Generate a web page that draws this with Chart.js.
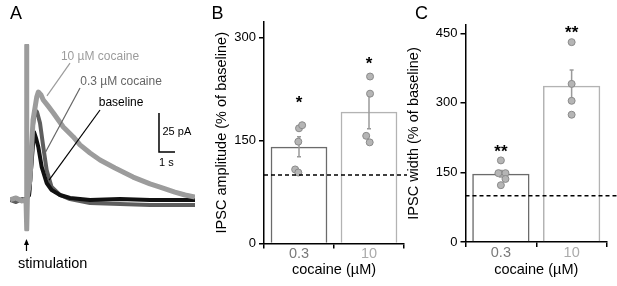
<!DOCTYPE html>
<html>
<head>
<meta charset="utf-8">
<script src="https://cdn.jsdelivr.net/npm/chart.js@4.4.1/dist/chart.umd.min.js"></script>
<style>
  html, body { margin: 0; padding: 0; background: #fff; }
  #wrap { position: relative; width: 617px; height: 286px; overflow: hidden; }
  canvas { position: absolute; top: 0; }
</style>
</head>
<body>
<div id="wrap">
  <canvas id="traces" width="200" height="286" style="left:0"></canvas>
  <canvas id="amp" width="220" height="286" style="left:190px"></canvas>
  <canvas id="width" width="217" height="286" style="left:400px"></canvas>
</div>
<script>
// ---- panel A: example IPSC traces (time in s, current in pA) ----
const cocaine10Time = [0, 0.375, 0.75, 1.0, 1.03, 1.06, 1.09, 1.25, 1.44, 1.67, 1.77, 1.94, 2.08, 2.375, 2.71, 3.33, 3.96, 4.375, 5.0, 5.625, 6.56, 7.69, 8.75, 9.375, 10.3, 10.94, 11.56];
const cocaine10Amp  = [0, 1.3, -0.6, 0, 99, -19, 2.6, 12.8, 51.3, 66, 69.2, 67.3, 64.1, 60.3, 55.8, 46.8, 40.4, 35.3, 30.1, 25.6, 20.5, 14.7, 10.3, 8.3, 5.1, 3.2, 1.9];

const cocaine03Time = [0, 0.375, 0.75, 1.0, 1.19, 1.31, 1.44, 1.56, 1.69, 1.875, 2.08, 2.29, 2.6, 3.125, 3.75, 5.0, 6.875, 8.75, 10.3, 11.56];
const cocaine03Amp  = [0, -1.3, 0.6, 0, 3.2, 19.2, 48, 57.7, 56.4, 49.4, 34, 19.2, 8.3, 3.2, 0.6, -1.9, -2.6, -3.2, -3.2, -3.2];

const baselineTime = [0, 0.375, 0.75, 1.0, 1.19, 1.31, 1.41, 1.5, 1.625, 1.77, 1.98, 2.29, 2.6, 3.125, 3.75, 5.0, 6.875, 8.75, 10.3, 11.56];
const baselineAmp  = [0, 1.3, -0.6, 0.6, 3.2, 19.2, 32, 43.6, 39.7, 34, 21.2, 10.9, 6.4, 3.2, 1.3, 0, 0.6, 0, 0, 0];

const stimTime = 1.03;

// ---- panels B and C: % of baseline ----
const doses = ['0.3', '10'];
const ampTicks = [0, 150, 300];
const ampMean = [141, 192];
const ampSem = [14.5, 24.5];
const ampPoints = [[168, 172.5, 148.5, 108, 103.5], [243.5, 218.5, 157, 147.5]];
const ampStars = ['*', '*'];
const ampStarAt = [212, 269];

const widthTicks = [0, 150, 300, 450];
const widthMean = [147, 337];
const widthSem = [7, 34];
const widthPoints = [[176, 148.5, 148.5, 136, 122.5], [431, 341, 304.5, 274.5]];
const widthStars = ['**', '**'];
const widthStarAt = [203.5, 461];

const baselineLevel = 100;

const FONT = "'Liberation Sans', Arial, sans-serif";
Chart.defaults.font.family = FONT;
Chart.defaults.color = '#000';

const pairs = (xs, ys) => xs.map((x, i) => ({ x, y: ys[i] }));

// ---------------- Panel A ----------------
const traceNotes = {
    id: 'traceNotes',
    afterDatasetsDraw(chart) {
        const { ctx, scales: { x, y } } = chart;
        const px = v => x.getPixelForValue(v);
        const py = v => y.getPixelForValue(v);
        ctx.save();
        ctx.font = '18px ' + FONT;
        ctx.fillStyle = '#000';
        ctx.textAlign = 'left';
        ctx.textBaseline = 'alphabetic';
        ctx.fillText('A', 10, 18.5);

        // labels with leader lines
        const notes = [
            { text: '10 µM cocaine', color: '#9c9c9c', at: [5.625, 91.7], from: [3.75, 87.8], to: [2.31, 66.7] },
            { text: '0.3 µM cocaine', color: '#666', at: [6.94, 75.6], from: [4.375, 71.8], to: [2.19, 30.1] },
            { text: 'baseline', color: '#000', at: [6.94, 62.2], from: [5.625, 57.7], to: [2.44, 12.8] },
        ];
        ctx.font = '12px ' + FONT;
        ctx.textAlign = 'center';
        ctx.textBaseline = 'middle';
        ctx.lineWidth = 1.2;
        notes.forEach(n => {
            ctx.fillStyle = n.color;
            ctx.strokeStyle = n.color;
            ctx.fillText(n.text, px(n.at[0]), py(n.at[1]));
            ctx.beginPath();
            ctx.moveTo(px(n.from[0]), py(n.from[1]));
            ctx.lineTo(px(n.to[0]), py(n.to[1]));
            ctx.stroke();
        });

        // scale bar: 1 s, 25 pA
        const bx = px(9.31), by = py(30.8);
        ctx.strokeStyle = '#000';
        ctx.lineWidth = 1.5;
        ctx.beginPath();
        ctx.moveTo(bx, py(30.8 + 25));
        ctx.lineTo(bx, by);
        ctx.lineTo(px(9.31 + 1), by);
        ctx.stroke();
        ctx.fillStyle = '#000';
        ctx.font = '11px ' + FONT;
        ctx.textAlign = 'left';
        ctx.fillText('25 pA', bx + 3.5, (by + py(55.8)) / 2);
        ctx.fillText('1 s', bx, by + 11);

        // stimulation arrow
        const sx = px(stimTime);
        ctx.lineWidth = 1.2;
        ctx.beginPath();
        ctx.moveTo(sx, 251);
        ctx.lineTo(sx, 243);
        ctx.stroke();
        ctx.beginPath();
        ctx.moveTo(sx, 239);
        ctx.lineTo(sx - 2.5, 245);
        ctx.lineTo(sx + 2.5, 245);
        ctx.closePath();
        ctx.fill();
        ctx.font = '14.5px ' + FONT;
        ctx.textAlign = 'left';
        ctx.fillText('stimulation', 18, 264);
        ctx.restore();
    }
};

new Chart(document.getElementById('traces'), {
    type: 'line',
    data: {
        datasets: [
            { data: pairs(cocaine10Time, cocaine10Amp), borderColor: '#9c9c9c', borderWidth: 5 },
            { data: pairs(baselineTime, baselineAmp), borderColor: '#111', borderWidth: 4 },
            { data: pairs(cocaine03Time, cocaine03Amp), borderColor: '#5e5e5e', borderWidth: 4 },
        ],
    },
    options: {
        responsive: false,
        animation: false,
        events: [],
        devicePixelRatio: 1,
        layout: { padding: { left: 10, right: 5, top: 44, bottom: 54.8 } },
        elements: { point: { radius: 0 }, line: { tension: 0, borderJoinStyle: 'round' } },
        plugins: { legend: { display: false }, tooltip: { enabled: false } },
        scales: {
            x: { type: 'linear', min: 0, max: 11.56, display: false },
            y: { type: 'linear', min: -20, max: 100, display: false },
        },
    },
    plugins: [traceNotes],
});

// ---------------- Panels B and C ----------------
function barPanel(canvasId, cfg) {
    const { means, sems, points, dodge, stars, starAt, ticks } = cfg;

    const overlay = {
        id: 'overlay-' + canvasId,
        afterDatasetDraw(chart, args) {
            if (args.meta.type !== 'bar') return;
            // error bars (mean ± SEM), under the individual points
            const { ctx, scales: { x, y } } = chart;
            ctx.save();
            ctx.strokeStyle = '#9a9a9a';
            ctx.lineWidth = 1.5;
            means.forEach((m, i) => {
                const cx = x.getPixelForValue(i);
                const y1 = y.getPixelForValue(m - sems[i]);
                const y2 = y.getPixelForValue(m + sems[i]);
                ctx.beginPath();
                ctx.moveTo(cx, y1); ctx.lineTo(cx, y2);
                ctx.moveTo(cx - 2, y1); ctx.lineTo(cx + 2, y1);
                ctx.moveTo(cx - 2, y2); ctx.lineTo(cx + 2, y2);
                ctx.stroke();
            });
            ctx.restore();
        },
        afterDatasetsDraw(chart) {
            const { ctx, chartArea, scales: { x, y } } = chart;
            ctx.save();
            // baseline reference
            ctx.strokeStyle = '#000';
            ctx.lineWidth = 1.5;
            ctx.setLineDash([4, 3]);
            const yb = y.getPixelForValue(baselineLevel);
            ctx.beginPath();
            ctx.moveTo(chartArea.left, yb);
            ctx.lineTo(chartArea.right + cfg.dashExtra, yb);
            ctx.stroke();
            ctx.setLineDash([]);
            // significance stars
            ctx.fillStyle = '#000';
            ctx.font = 'bold 17px ' + FONT;
            ctx.textAlign = 'center';
            ctx.textBaseline = 'alphabetic';
            stars.forEach((s, i) => {
                ctx.fillText(s, x.getPixelForValue(i), y.getPixelForValue(starAt[i]) + 9.7);
            });
            // panel letter
            ctx.font = '18px ' + FONT;
            ctx.textAlign = 'left';
            ctx.fillText(cfg.letter, cfg.letterX, 18.5);
            ctx.restore();
        }
    };

    const scatter = [];
    points.forEach((grp, i) => grp.forEach((v, j) => scatter.push({ x: i + dodge[i][j], y: v })));

    return new Chart(document.getElementById(canvasId), {
        type: 'bar',
        data: {
            labels: doses,
            datasets: [
                {
                    type: 'bar',
                    data: means,
                    backgroundColor: 'rgba(255,255,255,0)',
                    borderColor: ['#6b6b6b', '#b3b3b3'],
                    borderWidth: 1.5,
                    grouped: false,
                    barPercentage: 0.81,
                    categoryPercentage: 1,
                    order: 2,
                },
                {
                    type: 'scatter',
                    xAxisID: 'xj',
                    data: scatter,
                    pointRadius: 3.5,
                    backgroundColor: '#b5b5b5',
                    borderColor: '#8a8a8a',
                    borderWidth: 1,
                    order: 1,
                },
            ],
        },
        options: {
            responsive: false,
            animation: false,
            events: [],
            devicePixelRatio: 1,
            layout: { padding: { left: 0, right: cfg.padRight, top: cfg.padTop, bottom: 0 } },
            plugins: { legend: { display: false }, tooltip: { enabled: false } },
            scales: {
                x: {
                    type: 'category',
                    offset: true,
                    afterFit: s => { s.height = cfg.xHeight; },
                    border: { display: true, color: '#000', width: 1.5 },
                    grid: { offset: true, drawOnChartArea: false, drawTicks: true, tickLength: 5, color: '#000', lineWidth: 1.5 },
                    ticks: { color: c => ['#7a7a7a', '#ababab'][c.index], font: { size: 14.5 }, padding: -3 },
                    title: { display: true, text: 'cocaine (µM)', color: '#000', font: { size: 14.5 }, padding: { top: 0, bottom: 7 } },
                },
                xj: { type: 'linear', min: -0.5, max: 1.5, offset: false, display: false },
                y: {
                    min: 0,
                    max: cfg.yMax,
                    afterFit: s => { s.width = cfg.yWidth; },
                    afterBuildTicks: s => { s.ticks = ticks.map(v => ({ value: v })); },
                    border: { display: true, color: '#000', width: 1.5 },
                    grid: { drawOnChartArea: false, drawTicks: true, tickLength: 5, color: '#000', lineWidth: 1.5 },
                    ticks: { color: '#000', font: { size: 13 }, padding: 3 },
                    title: { display: true, text: cfg.yTitle, color: '#000', font: { size: 14.5 }, padding: { top: cfg.titlePad, bottom: 0 } },
                },
            },
        },
        plugins: [overlay],
    });
}

barPanel('amp', {
    means: ampMean, sems: ampSem, points: ampPoints, stars: ampStars, starAt: ampStarAt, ticks: ampTicks,
    dodge: [[0, 0.045, -0.01, -0.055, -0.01], [0.015, 0.015, -0.04, 0.01]],
    yMax: 323, yTitle: 'IPSC amplitude (% of baseline)',
    yWidth: 74, xHeight: 42.5, padTop: 22, padRight: 6, titlePad: 23, dashExtra: 3,
    letter: 'B', letterX: 21.5,
});

barPanel('width', {
    means: widthMean, sems: widthSem, points: widthPoints, stars: widthStars, starAt: widthStarAt, ticks: widthTicks,
    dodge: [[0, -0.035, 0.065, 0.065, 0], [0, 0, 0, 0]],
    yMax: 468, yTitle: 'IPSC width (% of baseline)',
    yWidth: 65.5, xHeight: 44, padTop: 25, padRight: 10, titlePad: 5.3, dashExtra: 20,
    letter: 'C', letterX: 15,
});
</script>
</body>
</html>
